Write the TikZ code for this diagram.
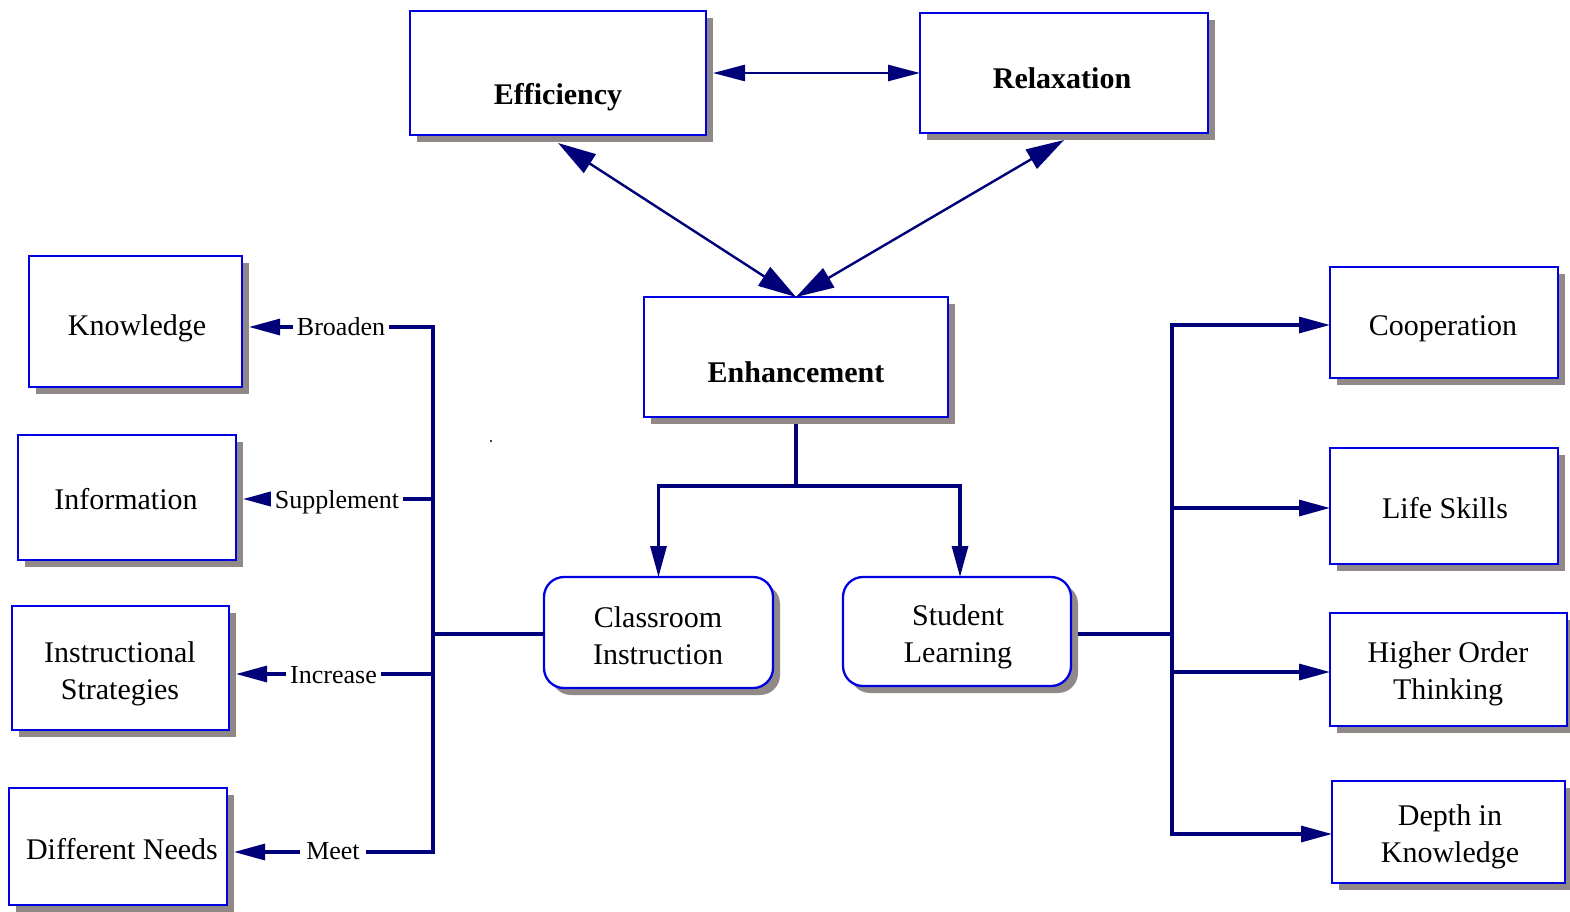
\documentclass[tikz,border=0pt]{standalone}
\usepackage{fontspec}
\setmainfont{Liberation Serif}
\usetikzlibrary{arrows.meta,shadows}
\definecolor{nodeblue}{RGB}{0,0,225}
\definecolor{linenavy}{RGB}{0,0,120}
\definecolor{shadowgray}{RGB}{145,136,136}
\begin{document}
\begin{tikzpicture}[x=1pt,y=-1pt,
  boxst/.style={draw=nodeblue, line width=2.3pt, fill=white, inner sep=0pt, outer sep=0pt,
    drop shadow={shadow xshift=7pt, shadow yshift=-7pt, fill=shadowgray, opacity=1}},
  roundbox/.style={boxst, rounded corners=20pt},
  txt/.style={inner sep=0pt, align=center, font=\fontsize{30}{37}\selectfont},
  btxt/.style={inner sep=0pt, align=center, font=\fontsize{30}{37}\selectfont\bfseries},
  lbl/.style={fill=white, inner sep=4pt, font=\fontsize{26}{32}\selectfont},
  conn/.style={draw=linenavy, line width=3.1pt, line join=miter},
  tipend/.style={-{Triangle[length=31pt,width=16pt]}},
  tipboth/.style={{Triangle[length=31pt,width=16pt]}-{Triangle[length=31pt,width=16pt]}},
  bigboth/.style={{Triangle[length=38pt,width=22pt]}-{Triangle[length=38pt,width=22pt]}},
  topboth/.style={{Triangle[length=32pt,width=16pt]}-{Triangle[length=32pt,width=16pt]}}
]
\useasboundingbox (0,0) rectangle (1570,911);
\fill[white] (0,0) rectangle (1570,911);

% boxes
\node[boxst, minimum width=296pt, minimum height=124pt] (eff) at (558,73) {};
\node[boxst, minimum width=288pt, minimum height=120pt] (rel) at (1064,73) {};
\node[boxst, minimum width=304pt, minimum height=120pt] (enh) at (796,357) {};
\node[boxst, minimum width=213pt, minimum height=131pt] (know) at (135.5,321.5) {};
\node[boxst, minimum width=218pt, minimum height=125pt] (info) at (127,497.5) {};
\node[boxst, minimum width=217pt, minimum height=124pt] (instr) at (120.5,668) {};
\node[boxst, minimum width=218pt, minimum height=117pt] (diff) at (118,846.5) {};
\node[roundbox, minimum width=229pt, minimum height=111pt] (class) at (658.5,632.5) {};
\node[roundbox, minimum width=228pt, minimum height=109pt] (stud) at (957,631.5) {};
\node[boxst, minimum width=228pt, minimum height=111pt] (coop) at (1444,322.5) {};
\node[boxst, minimum width=228pt, minimum height=116pt] (life) at (1444,506) {};
\node[boxst, minimum width=237pt, minimum height=113pt] (hot) at (1448.5,669.5) {};
\node[boxst, minimum width=233pt, minimum height=102pt] (depth) at (1448.5,832) {};

% texts
\node[btxt] (efft) at (558,97) {\strut Efficiency};
\node[btxt] (relt) at (1062,81) {\strut Relaxation};
\node[btxt] (enht) at (796,375) {\strut Enhancement};
\node[txt] (knowt) at (137,328) {\strut Knowledge};
\node[txt] (infot) at (126,502) {\strut Information};
\node[txt] (instrt) at (120,674) {\strut Instructional\\\strut Strategies};
\node[txt] (difft) at (122,852) {\strut Different Needs};
\node[txt] (classt) at (658,639) {\strut Classroom\\\strut Instruction};
\node[txt] (studt) at (958,637) {\strut Student\\\strut Learning};
\node[txt] (coopt) at (1443,328) {\strut Cooperation};
\node[txt] (lifet) at (1445,511) {\strut Life Skills};
\node[txt] (hott) at (1448,674) {\strut Higher Order\\\strut Thinking};
\node[txt] (deptht) at (1450,837) {\strut Depth in\\\strut Knowledge};

% top connectors
\draw[conn, line width=2.6pt, topboth] ([xshift=7pt]eff.east) -- (rel.west);
\draw[conn, line width=2.4pt, bigboth] (enh.north) -- ([yshift=-8pt]eff.south);
\draw[conn, line width=2.4pt, bigboth] (enh.north) -- ([yshift=-7pt]rel.south);

% enhancement split
\coordinate (split) at (796,486);
\draw[conn] ([yshift=-7pt]enh.south) -- (split);
\draw[conn, tipend] (split) -| (class.north);
\draw[conn, tipend] (split) -| ([xshift=3pt]stud.north);

% left tree
\coordinate (lt) at (433,327);
\coordinate (ls) at (433,499);
\coordinate (lm) at (433,634);
\coordinate (li) at (433,674);
\coordinate (lbot) at (433,852);
\draw[conn] (class.west |- lm) -- (lm);
\draw[conn, tipboth, shorten <=7pt, shorten >=7pt] (lt -| know.east) -- (lt) -- (lbot) -- (lbot -| diff.east);
\draw[conn, tipend, shorten >=7pt] (ls) -- (ls -| info.east);
\draw[conn, tipend, shorten >=7pt] (li) -- (li -| instr.east);

\node[lbl] (lbroad) at (341,328.6) {\strut Broaden};
\node[lbl] (lsupp) at (337,501.6) {\strut Supplement};
\node[lbl] (lincr) at (333.5,676.6) {\strut Increase};
\node[lbl, inner xsep=6pt] (lmeet) at (333,852.6) {\strut Meet};

% right tree
\coordinate (rt) at (1172,325);
\coordinate (rl) at (1172,508);
\coordinate (rm) at (1172,634);
\coordinate (rh) at (1172,672);
\coordinate (rbot) at (1172,834);
\draw[conn, shorten <=7pt] (stud.east |- rm) -- (rm);
\draw[conn, tipboth] (rt -| coop.west) -- (rt) -- (rbot) -- (rbot -| depth.west);
\draw[conn, tipend] (rl) -- (rl -| life.west);
\draw[conn, tipend] (rh) -- (rh -| hot.west);

% stray dot
\fill[black] (491,441) circle (1.1pt);
\end{tikzpicture}
\end{document}
